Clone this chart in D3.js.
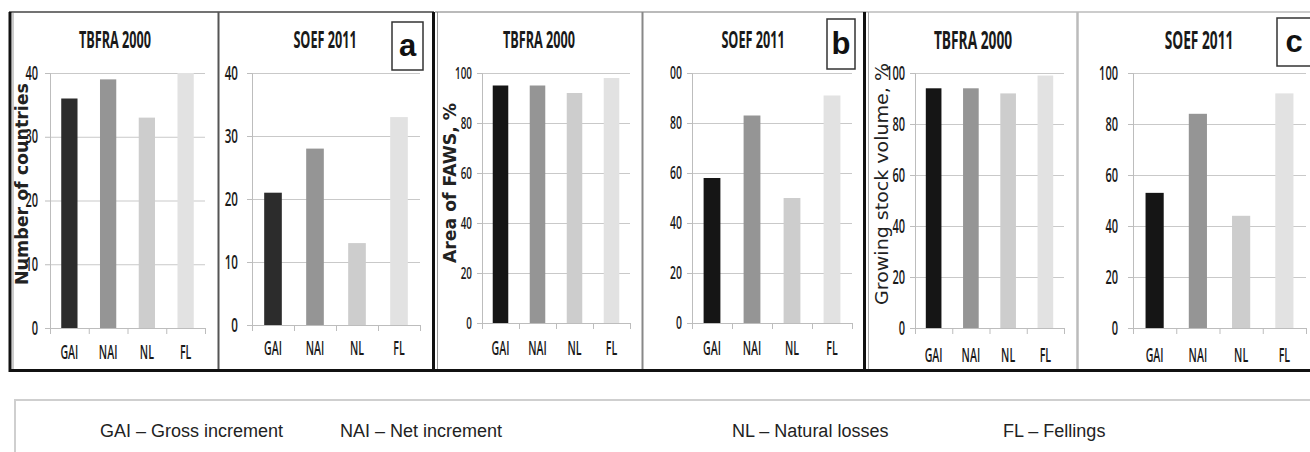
<!DOCTYPE html>
<html>
<head>
<meta charset="utf-8">
<script src="https://cdn.jsdelivr.net/npm/d3@7"></script>
<style>
  body { margin: 0; background: #fff; }
  .narrow { font-family: 'Open Sans', 'Noto Sans', sans-serif; }
  .grid line { stroke: #c9c9c9; stroke-width: 1; }
  .grid path { display: none; }
  .axis path, .axis line { stroke: #bdbdbd; }
  .axis text { fill: #1a1a1a; }
</style>
</head>
<body>
<div id="chart"></div>
<script>
// chart data
var categories = ['GAI', 'NAI', 'NL', 'FL'];
var countries2000 = [36, 39, 33, 40];
var countries2011 = [21, 28, 13, 33];
var area2000 = [95, 95, 92, 98];
var area2011 = [58, 83, 50, 91];
var stock2000 = [94, 94, 92, 99];
var stock2011 = [53, 84, 44, 92];

var countryTicks = [0, 10, 20, 30, 40];
var countryTickLabels = ['0', '10', '20', '30', '40'];
var percentTicks = [0, 20, 40, 60, 80, 100];
var percentTickLabels = ['0', '20', '40', '60', '80', '100'];
var areaTickLabels2011 = ['0', '20', '40', '60', '80', '00'];

var legendItems = ['GAI \u2013 Gross increment', 'NAI \u2013 Net increment', 'NL \u2013 Natural losses', 'FL \u2013 Fellings'];

var barColors = ['#2c2c2c', '#959595', '#cdcdcd', '#e2e2e2'];
var darkColors = ['#151515', '#959595', '#cdcdcd', '#e2e2e2'];

var W = 1310, H = 452;

var svg = d3.select('#chart').append('svg')
	.attr('width', W)
	.attr('height', H)
	.style('display', 'block');

svg.append('rect').attr('width', W).attr('height', H).attr('fill', '#fff');

// squeeze text horizontally (the original font is a condensed one)
function squeeze(sel, sx) {
	sel.each(function() {
		var t = d3.select(this);
		var x = +t.attr('x') || 0;
		var y = +t.attr('y') || 0;
		t.attr('x', 0).attr('y', 0)
			.attr('transform', 'translate(' + x + ',' + y + ') scale(' + sx + ',1)');
	});
}

// panel layout (pixel boxes of the plot areas)
var panels = [
	{title: 'TBFRA 2000', values: countries2000, ticks: countryTicks, labels: countryTickLabels, max: 40,
	 left: 50, right: 205, top: 73, bottom: 328, titleX: 115, tickSize: 19, xlab: 24, colors: barColors, tickPad: 7, titleSize: 23},
	{title: 'SOEF 2011', values: countries2011, ticks: countryTicks, labels: countryTickLabels, max: 40,
	 left: 252, right: 420, top: 73, bottom: 325, titleX: 325, tickSize: 20, xlab: 23, colors: barColors, tickPad: 9, titleSize: 23},
	{title: 'TBFRA 2000', values: area2000, ticks: percentTicks, labels: percentTickLabels, max: 100,
	 left: 482, right: 630, top: 73, bottom: 323, titleX: 539, tickSize: 17, xlab: 25, colors: darkColors, tickPad: 5, titleSize: 23},
	{title: 'SOEF 2011', values: area2011, ticks: percentTicks, labels: areaTickLabels2011, max: 100,
	 left: 692, right: 852, top: 73, bottom: 323, titleX: 753, tickSize: 18, xlab: 25, colors: darkColors, tickPad: 5, titleSize: 23},
	{title: 'TBFRA 2000', values: stock2000, ticks: percentTicks, labels: percentTickLabels, max: 100,
	 left: 915, right: 1064, top: 73, bottom: 328, titleX: 973, tickSize: 19, xlab: 27, colors: darkColors, tickPad: 5, titleSize: 25},
	{title: 'SOEF 2011', values: stock2011, ticks: percentTicks, labels: percentTickLabels, max: 100,
	 left: 1133, right: 1306, top: 73, bottom: 328, titleX: 1199, tickSize: 19, xlab: 27, colors: darkColors, tickPad: 10, titleSize: 25}
];

function drawPanel(p) {
	var width = p.right - p.left;
	var height = p.bottom - p.top;

	var g = svg.append('g')
		.attr('transform', 'translate(' + p.left + ',' + p.top + ')');

	var x = d3.scaleBand().domain(categories).range([0, width]).padding(0);
	var y = d3.scaleLinear().domain([0, p.max]).range([height, 0]);

	// gridlines
	g.append('g')
		.attr('class', 'grid')
		.call(d3.axisLeft(y).tickValues(p.ticks).tickSize(-width).tickFormat(''));

	// y axis
	var yAxis = g.append('g')
		.attr('class', 'axis narrow')
		.call(d3.axisLeft(y).tickValues(p.ticks).tickSize(5).tickPadding(p.tickPad)
			.tickFormat(function(d, i) { return p.labels[i]; }));
	yAxis.attr('font-family', null).attr('font-size', null);
	yAxis.selectAll('text').style('font-size', p.tickSize + 'px').style('font-weight', 600);
	squeeze(yAxis.selectAll('text'), 0.58);
	yAxis.select('.domain').attr('stroke', '#d0d0d0');

	// bars
	var bw = x.bandwidth() * 0.42;
	g.selectAll('.bar')
		.data(p.values)
		.enter().append('rect')
		.attr('class', 'bar')
		.attr('x', function(d, i) { return x(categories[i]) + (x.bandwidth() - bw) / 2; })
		.attr('y', function(d) { return y(d); })
		.attr('width', bw)
		.attr('height', function(d) { return height - y(d); })
		.attr('fill', function(d, i) { return p.colors[i]; });

	// x axis: boundary ticks
	var xb = d3.scaleLinear().domain([0, categories.length]).range([0, width]);
	g.append('g')
		.attr('class', 'axis')
		.attr('transform', 'translate(0,' + height + ')')
		.call(d3.axisBottom(xb).ticks(categories.length).tickSize(6).tickSizeOuter(0).tickFormat(''));

	// category labels
	var xl = g.selectAll('.xlab')
		.data(categories)
		.enter().append('text')
		.attr('class', 'narrow')
		.attr('x', function(d) { return x(d) + x.bandwidth() / 2; })
		.attr('y', height + p.xlab)
		.attr('dy', '0.35em')
		.attr('text-anchor', 'middle')
		.style('font-size', '20px')
		.style('font-weight', 600)
		.attr('fill', '#1a1a1a')
		.text(function(d) { return d; });
	squeeze(xl, 0.53);

	// title
	var t = svg.append('text')
		.attr('class', 'narrow')
		.attr('x', p.titleX)
		.attr('y', 40)
		.attr('dy', '0.35em')
		.attr('text-anchor', 'middle')
		.style('font-size', p.titleSize + 'px')
		.style('font-weight', 'bold')
		.attr('fill', '#1a1a1a')
		.text(p.title);
	squeeze(t, 0.55);
}

panels.forEach(drawPanel);

// y axis titles
var yTitles = [
	{text: 'Number of countries', x: 22, y: 184, len: 202, weight: 'bold'},
	{text: 'Area of FAWS, %', x: 450, y: 183, len: 160, weight: 'bold'},
	{text: 'Growing stock volume, %', x: 882, y: 184, len: 242, weight: 'normal'}
];
yTitles.forEach(function(t) {
	svg.append('text')
		.attr('transform', 'translate(' + t.x + ',' + t.y + ') rotate(-90)')
		.attr('text-anchor', 'middle')
		.attr('dy', '0.35em')
		.attr('textLength', t.len)
		.attr('lengthAdjust', 'spacingAndGlyphs')
		.style('font-family', "'DejaVu Sans', Verdana, sans-serif")
		.style('font-size', '18px')
		.style('font-weight', t.weight)
		.attr('fill', '#222')
		.text(t.text);
});

// frames
function line(x1, y1, x2, y2, color, w) {
	svg.append('line')
		.attr('x1', x1).attr('y1', y1).attr('x2', x2).attr('y2', y2)
		.attr('stroke', color).attr('stroke-width', w);
}
// group a
line(9, 12, 434, 12, '#444', 1.5);
line(10, 12, 10, 372, '#111', 3);
line(13, 13, 13, 369, '#999', 1);
line(218.5, 12, 218.5, 370, '#555', 2);
line(433.5, 12, 433.5, 372, '#111', 3);
line(9, 370.5, 435, 370.5, '#111', 3);
// group b
line(437.5, 12, 437.5, 369, '#999', 1);
line(435, 12, 866, 12, '#777', 1.2);
line(642.5, 12, 642.5, 369, '#888', 2);
line(864.5, 12, 864.5, 372, '#111', 3);
line(868.5, 12, 868.5, 369, '#aaa', 1);
line(435, 370.5, 866, 370.5, '#111', 3);
// group c
line(866, 12, 1310, 12, '#999', 1.2);
line(1077.5, 12, 1077.5, 369, '#bbb', 2.5);
line(866, 370.5, 1310, 370.5, '#111', 3);

// panel letters
var letters = [
	{t: 'a', x: 392, y: 22, w: 31, h: 48},
	{t: 'b', x: 827, y: 19, w: 28, h: 50},
	{t: 'c', x: 1277, y: 18, w: 40, h: 48}
];
letters.forEach(function(l) {
	svg.append('rect')
		.attr('x', l.x).attr('y', l.y).attr('width', l.w).attr('height', l.h)
		.attr('fill', '#fff').attr('stroke', '#333').attr('stroke-width', 1.5);
	svg.append('text')
		.attr('x', l.t === 'c' ? 1294 : l.x + l.w / 2)
		.attr('y', l.y + l.h / 2 + 10)
		.attr('text-anchor', 'middle')
		.style('font-family', "'Liberation Sans', Arial, sans-serif")
		.style('font-size', '31px')
		.style('font-weight', 'bold')
		.attr('fill', '#111')
		.text(l.t);
});

// legend box
svg.append('rect')
	.attr('x', 15).attr('y', 400).attr('width', 1310).attr('height', 80)
	.attr('fill', '#fff').attr('stroke', '#cfcfcf').attr('stroke-width', 2);

var legendX = [100, 340, 732, 1003];
svg.selectAll('.legend')
	.data(legendItems)
	.enter().append('text')
	.attr('x', function(d, i) { return legendX[i]; })
	.attr('y', 437)
	.style('font-family', "'Liberation Sans', Arial, sans-serif")
	.style('font-size', '18px')
	.attr('fill', '#222')
	.text(function(d) { return d; });
</script>
</body>
</html>
